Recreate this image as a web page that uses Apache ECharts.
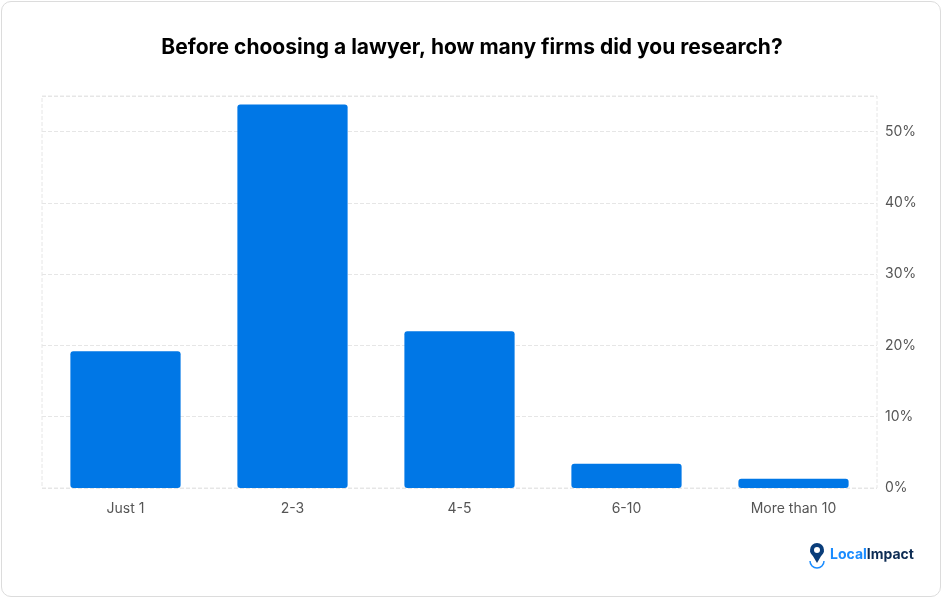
<!DOCTYPE html>
<html><head><meta charset="utf-8">
<script src="https://cdn.jsdelivr.net/npm/echarts@6/dist/echarts.min.js"></script>
<style>html,body{margin:0;padding:0;background:#fff}
#frame{position:absolute;left:1px;top:1px;width:940px;height:596px;border:1px solid #dcdcdc;border-radius:10px;box-sizing:border-box}
#c{position:absolute;left:0;top:0;width:944px;height:600px}</style>
</head><body><div id="frame"></div><div id="c"></div>
<script>
const categories=["Just 1","2-3","4-5","6-10","More than 10"];
const values=[19.2,53.8,22.0,3.4,1.3];
const yTicks=[0,10,20,30,40,50];
const chart=echarts.init(document.getElementById('c'));
chart.setOption({
  animation:false,
  title:{text:"Before choosing a lawyer, how many firms did you research?",left:'center',top:32,
    textStyle:{fontFamily:'Inter',fontSize:21,fontWeight:'bold',color:'#000'}},
  grid:{left:42,right:67,top:96,bottom:112,show:true,borderColor:'#e6e6e6',borderWidth:1,borderType:'dashed'},
  xAxis:{type:'category',data:categories,axisLine:{show:false},axisTick:{show:false},
    axisLabel:{fontFamily:'Inter',fontSize:14,color:'#555',margin:14}},
  yAxis:{type:'value',position:'right',min:0,max:55,interval:10,
    axisLabel:{fontFamily:'Inter',fontSize:14,color:'#555',margin:8,
      formatter:v=>yTicks.includes(v)?v+'%':''},
    splitLine:{lineStyle:{color:'#e6e6e6',type:'dashed'}},axisLine:{show:false},axisTick:{show:false}},
  series:[{type:'bar',data:values,barWidth:'66%',itemStyle:{color:'#0077e6',borderRadius:[3,3,3,3]}}],
  graphic:[
    {type:'arc',shape:{cx:817,cy:561,r:7,startAngle:0,endAngle:Math.PI},style:{fill:'none',stroke:'#1a8cff',lineWidth:1.5}},
    {type:'polygon',shape:{points:[[810,551],[824,551],[817,563]]},style:{fill:'#0a3d7a'}},
    {type:'circle',shape:{cx:817,cy:550,r:7},style:{fill:'#0a3d7a'}},
    {type:'circle',shape:{cx:817,cy:550,r:3},style:{fill:'#fff'}},
    {type:'text',left:830,top:548,style:{text:'{a|Local}{b|Impact}',rich:{
      a:{fontFamily:'Inter',fontSize:14,fontWeight:'bold',fill:'#1a8cff'},
      b:{fontFamily:'Inter',fontSize:14,fontWeight:'bold',fill:'#0d2c54'}}}}
  ]
});
</script></body></html>
